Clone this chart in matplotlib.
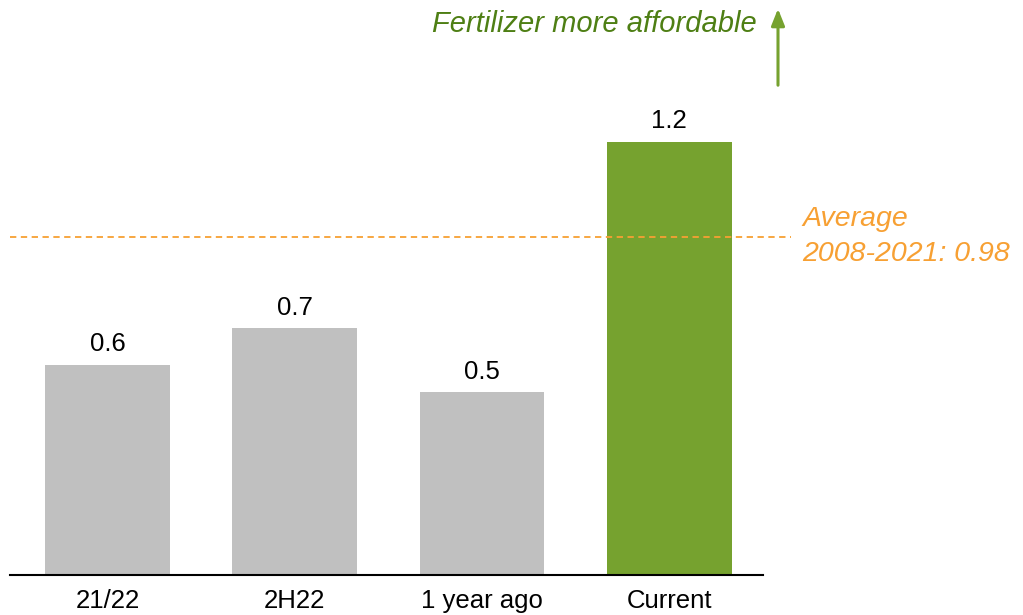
import matplotlib.pyplot as plt

categories = ["21/22", "2H22", "1 year ago", "Current"]
values = [0.61, 0.715, 0.53, 1.255]
value_labels = ["0.6", "0.7", "0.5", "1.2"]
average = 0.98

plt.rcParams["font.family"] = ["Liberation Sans", "DejaVu Sans"]

grey = "#c0c0c0"
green = "#76a22f"
dark_green = "#4e7f14"
orange = "#f7a033"

fig = plt.figure(figsize=(10.23, 6.15), dpi=100)
ax = fig.add_axes([10 / 1023, 40 / 615, 753 / 1023, 560 / 615])

colors = [grey] * (len(categories) - 1) + [green]
x = range(len(categories))
bars = ax.bar(x, values, width=0.667, color=colors)

for b, lab in zip(bars, value_labels):
    ax.text(b.get_x() + b.get_width() / 2, b.get_height() + 0.025, lab,
            ha="center", va="bottom", fontsize=18.5, color="black")

ax.set_xlim(-0.52, 3.5)
ax.set_ylim(0, 1.623)

# average line runs past the axis on the right
ax.plot([-0.52, 3.65], [average, average], ls=(0, (3.5, 2.5)), color=orange,
        lw=1.3, clip_on=False)
ax.text(3.71, average, f"Average\n2008-2021: {average:.2f}", color=orange,
        fontsize=20.5, style="italic", va="center", ha="left",
        linespacing=1.45, clip_on=False)

# "more affordable" arrow
ax.annotate("", xy=(778 / 1023, 1 - 6 / 615), xytext=(778 / 1023, 1 - 88 / 615),
            xycoords="figure fraction", textcoords="figure fraction",
            arrowprops=dict(arrowstyle="-|>,head_width=0.4,head_length=1.0",
                            color=green, lw=2.2))
fig.text(757 / 1023, 1 - 24 / 615, "Fertilizer more affordable", color=dark_green,
         fontsize=21, style="italic", ha="right", va="center")

ax.set_xticks(list(x))
ax.set_xticklabels(categories, fontsize=18.5)
ax.tick_params(axis="x", length=0, pad=10)
ax.set_yticks([])
for s in ["top", "right", "left"]:
    ax.spines[s].set_visible(False)
ax.spines["bottom"].set_linewidth(1.5)

fig.savefig("out.png", dpi=100)
